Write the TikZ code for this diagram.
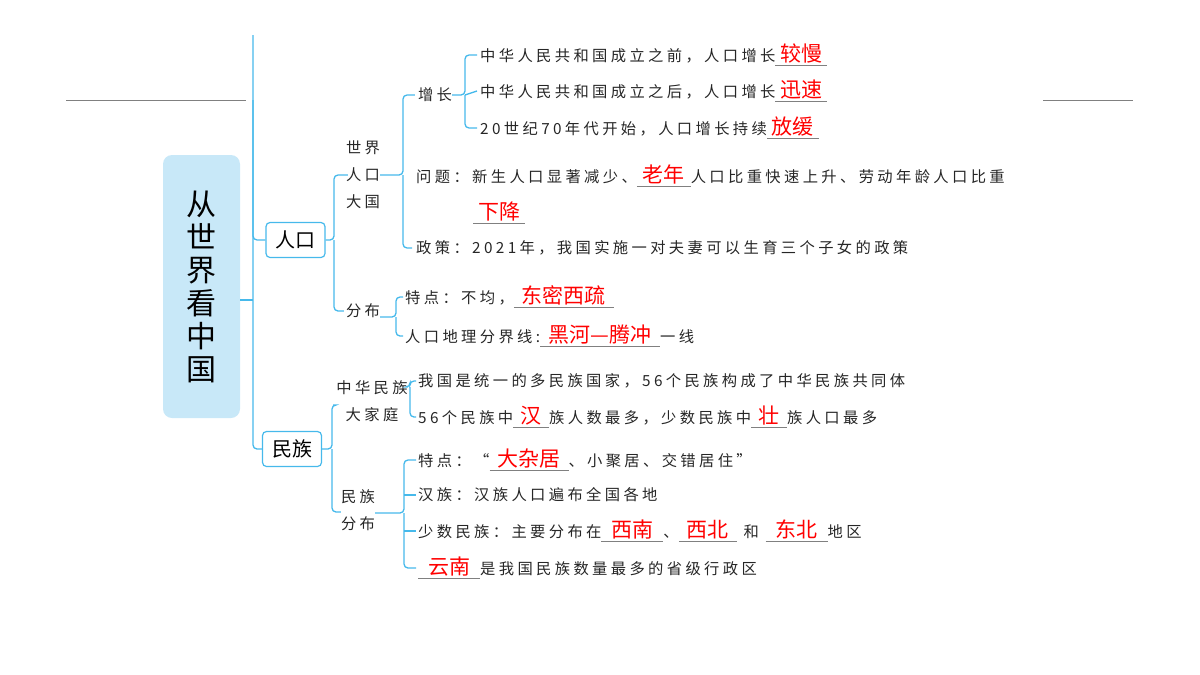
\documentclass[tikz,border=0pt]{standalone}
\usepackage{fontspec}
\setmainfont{Noto Sans CJK SC}
\newfontfamily\cjk[LetterSpace=22]{Noto Sans CJK SC}
\newfontfamily\ansf{Noto Sans CJK SC}
\usepackage{xcolor}
\definecolor{bl}{RGB}{70,185,235}
\definecolor{boxf}{RGB}{200,232,248}
\newcommand\ans[2]{\leavevmode\rlap{\color{gray}\rule[-4pt]{#1}{0.9pt}}\makebox[#1]{\color{red}\ansf\fontsize{21}{21}\selectfont #2}}
\begin{document}
\begin{tikzpicture}[x=1pt,y=-1pt,
 br/.style={draw=bl,line width=1.3pt,rounded corners=4pt},
 tx/.style={anchor=west,inner sep=0pt,font=\cjk\fontsize{15.3}{16}\selectfont,text=black!85},
 lbl/.style={inner sep=0pt,font=\cjk\fontsize{15.3}{27}\selectfont,text=black!85,align=center},
 cat/.style={draw=bl,line width=1.2pt,rounded corners=4pt,minimum width=59pt,minimum height=35pt,font=\fontsize{20}{20}\selectfont}]
\useasboundingbox (0,0) rectangle (1200,675);
\draw[gray,line width=0.8pt] (66,100)--(246,100) (1043,100)--(1133,100);
\node[fill=boxf,rounded corners=9pt,minimum width=77pt,minimum height=263pt,inner sep=0pt,
 font=\fontsize{30}{33}\selectfont,align=center] (title) at (201.5,286.5) {从\\世\\界\\看\\中\\国};
\node[cat] (rk) at (295.5,240) {人口};
\node[cat] (mz) at (292,449) {民族};
\coordinate (top) at (253,35);
\draw[br] (top) |- (mz.west);
\draw[br] (253,100) |- (rk.west);
\draw[br] (title.east|-0,300) -- (253,300);
% renkou
\node[lbl] (sj) at (363,175) {世界\\人口\\大国};
\node[lbl,anchor=center] (fb) at (363,311) {分布};
\coordinate (v1) at (334,240);
\draw[br] (rk.east) -- (v1) |- ([xshift=2pt]sj.west);
\draw[br] (v1) |- ([xshift=-2pt]fb.west);
\node[lbl] (zz) at (435,95) {增长};
\node[tx] (w1) at (416,176) {问题：新生人口显著减少、\ans{54pt}{老年}人口比重快速上升、劳动年龄人口比重};
\node[tx] (w1b) at (473,213) {\ans{52pt}{下降}};
\node[tx] (zc) at (416,248) {政策：2021年，我国实施一对夫妻可以生育三个子女的政策};
\coordinate (v2) at (403,175);
\draw[br] (sj.east) -- (v2) |- ([xshift=-3pt]zz.west);
\draw[br] (v2) |- ([xshift=-4pt]zc.west);
\node[tx] (g1) at (480,55) {中华人民共和国成立之前，人口增长\ans{52pt}{较慢}};
\node[tx] (g2) at (480,91) {中华人民共和国成立之后，人口增长\ans{52pt}{迅速}};
\node[tx] (g3) at (480,128) {20世纪70年代开始，人口增长持续\ans{52pt}{放缓}};
\coordinate (v3) at (465,95);
\draw[br] (zz.east) -- (v3) |- ([xshift=-3pt]g1.west);
\draw[br] (v3) |- ([xshift=-3pt]g3.west);
\draw[br] (v3) -- ([xshift=-3pt]g2.west);
\node[tx] (t1) at (405,297) {特点：不均，\ans{100pt}{东密西疏}};
\node[tx] (t2) at (405,336) {人口地理分界线:\ans{120pt}{黑河—腾冲}一线};
\coordinate (v4) at (396,317);
\draw[br] (fb.east|-0,317) -- (v4) |- ([xshift=-2pt]t1.west);
\draw[br] (v4) |- ([xshift=-2pt]t2.west);
% minzu
\node[lbl] (jt) at (372,401) {中华民族\\大家庭};
\node[lbl] (mf) at (358,510) {民族\\分布};
\coordinate (v5) at (332,449);
\draw[br] (mz.east) -- (v5) |- ([xshift=-3pt]jt.west|-0,405);
\draw[br] (v5) |- (mf.west|-0,512);
\node[tx] (j1) at (418,381) {我国是统一的多民族国家，56个民族构成了中华民族共同体};
\node[tx] (j2) at (418,417) {56个民族中\ans{36pt}{汉}族人数最多，少数民族中\ans{36pt}{壮}族人口最多};
\coordinate (v6) at (410,398);
\draw[br] (jt.east|-0,387) -- (v6|-0,387) |- ([xshift=-2pt]j1.west);
\draw[br] (v6|-0,387) |- ([xshift=-2pt]j2.west);
\node[tx] (m1) at (418,460) {特点：“\ans{79pt}{大杂居}、小聚居、交错居住”};
\node[tx] (m2) at (418,495) {汉族：汉族人口遍布全国各地};
\node[tx] (m3) at (418,531) {少数民族：主要分布在\ans{62pt}{西南}、\ans{58pt}{西北} 和 \ans{62pt}{东北}地区};
\node[tx] (m4) at (418,568) {\ans{62pt}{云南}是我国民族数量最多的省级行政区};
\coordinate (v7) at (404,513);
\draw[br] (mf.east|-0,513) -- (v7) |- ([xshift=-2pt]m1.west);
\draw[br] (v7) |- ([xshift=-2pt]m4.west);
\draw[br] (v7|-0,495) -- ([xshift=-2pt]m2.west);
\draw[br] (v7|-0,531) -- ([xshift=-2pt]m3.west);
\end{tikzpicture}
\end{document}
